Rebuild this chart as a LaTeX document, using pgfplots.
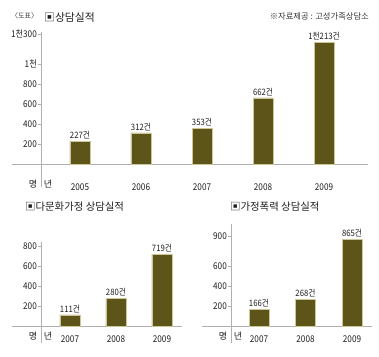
\documentclass[border=0pt]{standalone}
\usepackage{pgfplots}
\pgfplotsset{compat=1.18}
\usepackage{fontspec}
\setmainfont{Noto Sans CJK KR}
\newfontfamily\cond[FakeStretch=0.88]{Noto Sans CJK KR}
\definecolor{barfill}{RGB}{92,84,24}
\definecolor{baredge}{RGB}{205,198,150}
\definecolor{axgray}{RGB}{175,175,175}
\definecolor{txt}{RGB}{30,30,30}
\pgfplotsset{
  common/.style={
    scale only axis,
    anchor=south west,
    axis lines=left,
    axis line style={-, draw=axgray, line width=0.6pt},
    ymin=0,
    ybar, bar width=20pt,
    xtick=data,
    tick align=outside,
    major tick length=3pt,
    ytick style={draw=axgray, line width=0.6pt},
    xtick style={draw=none},
    yticklabel style={font=\cond\fontsize{9.3}{10}\selectfont, text=txt, inner sep=1pt},
    xticklabel style={font=\cond\fontsize{9.3}{10}\selectfont, text=txt, anchor=center},
    nodes near coords={\pgfplotspointmeta},
    point meta=explicit symbolic,
    nodes near coords style={font=\cond\fontsize{8.8}{9}\selectfont, text=txt, anchor=south, inner sep=2pt},
    clip=false,
  },
  barst/.style={fill=barfill, draw=baredge, line width=0.4pt},
}
\begin{document}
\begin{tikzpicture}[x=1pt,y=1pt]
\path[use as bounding box] (0,0) rectangle (379,356);
% top panel
\begin{axis}[common, at={(41pt,192pt)}, width=327pt, height=132pt,
  xmin=2004.361, xmax=2009.721, ymax=1320,
  ytick={200,400,600,800,1000,1300},
  yticklabels={200,400,600,800,1천,1천300},
  xticklabels={2005,2006,2007,2008,2009},
  xticklabel style={yshift=-20pt}]
\addplot[barst] table[x=x, y=y, meta=lab] {
x y lab
2005 227 227건
2006 312 312건
2007 353 353건
2008 662 662건
2009 1213 1천213건
};
\end{axis}
% bottom left
\begin{axis}[common, at={(41pt,30pt)}, width=141pt, height=84pt,
  xmin=2006.370, xmax=2009.435, ymax=840,
  ytick={200,400,600,800},
  yticklabels={200,400,600,800},
  xticklabels={2007,2008,2009},
  xticklabel style={yshift=-10pt}]
\addplot[barst] table[x=x, y=y, meta=lab] {
x y lab
2007 111 111건
2008 280 280건
2009 719 719건
};
\end{axis}
% bottom right
\begin{axis}[common, at={(231pt,30pt)}, width=141pt, height=102pt,
  xmin=2006.398, xmax=2009.430, ymax=1020,
  ytick={200,400,600,900},
  yticklabels={200,400,600,900},
  xticklabels={2007,2008,2009},
  xticklabel style={yshift=-10pt}]
\addplot[barst] table[x=x, y=y, meta=lab] {
x y lab
2007 166 166건
2008 268 268건
2009 865 865건
};
\end{axis}
% axis line extensions
\begin{scope}[draw=axgray, line width=0.6pt]
\draw (12,192) -- (41,192);
\draw (41,192) -- (41,169);
\draw (12,30) -- (41,30);
\draw (41,30) -- (41,13);
\draw (202,30) -- (231,30);
\draw (231,30) -- (231,13);
\end{scope}
% unit labels
\begin{scope}[text=txt, font=\fontsize{9}{10}\selectfont]
\node at (33,172) {명};
\node at (48,172) {년};
\node at (33,20) {명};
\node at (48,20) {년};
\node at (223,20) {명};
\node at (238,20) {년};
\end{scope}
% titles
\node[anchor=west, text=txt!85, font=\fontsize{7}{8}\selectfont, inner sep=0pt] at (11,340) {〈도표〉};
\node[anchor=west, text=txt, font=\fontsize{10.8}{12}\selectfont, inner sep=0pt] at (44,339) {▣상담실적};
\node[anchor=east, text=txt!90, font=\fontsize{8.3}{9}\selectfont, inner sep=0pt] at (369,340) {※자료제공 : 고성가족상담소};
\node[anchor=west, text=txt, font=\fontsize{10.4}{12}\selectfont, inner sep=0pt] at (25,149) {▣다문화가정 상담실적};
\node[anchor=west, text=txt, font=\fontsize{10.4}{12}\selectfont, inner sep=0pt] at (230,149) {▣가정폭력 상담실적};
\end{tikzpicture}
\end{document}
